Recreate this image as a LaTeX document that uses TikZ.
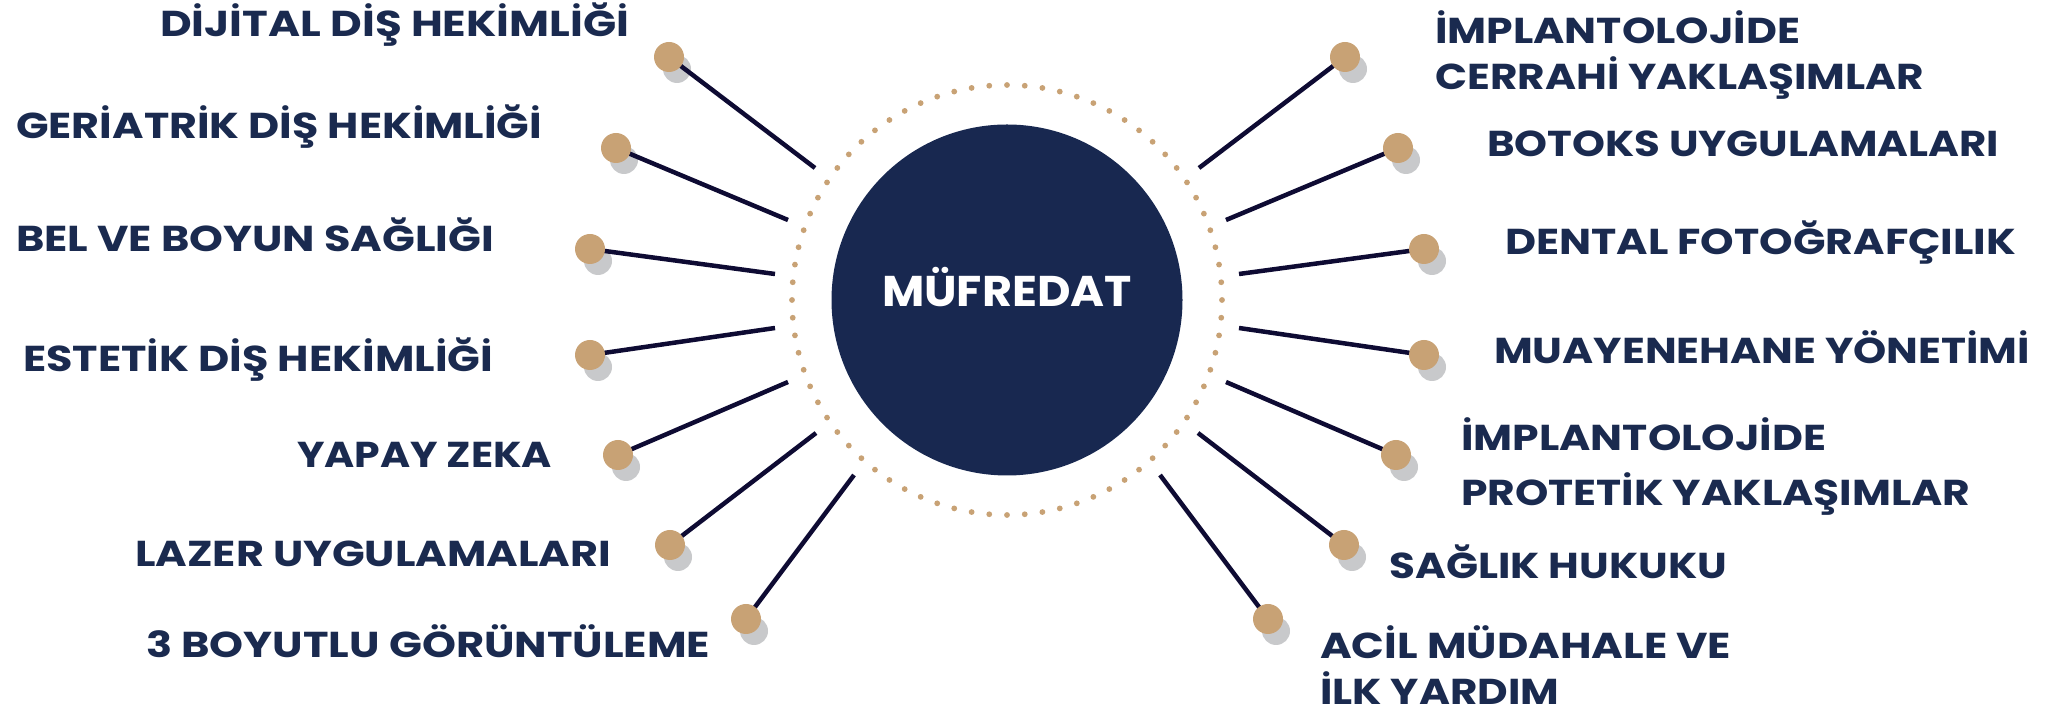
\documentclass[tikz,border=0pt]{standalone}
\usepackage{fontspec}
\setmainfont{Poppins}
\definecolor{navy}{HTML}{182850}
\definecolor{txt}{HTML}{1A2A4F}
\definecolor{spokec}{HTML}{0E0B33}
\definecolor{tan}{HTML}{C8A275}
\definecolor{shadowc}{HTML}{C8C9CB}
\newlength\fitlen
\newcommand\fitw[2]{\settowidth\fitlen{#2}\pgfmathsetmacro\fitsx{#1/\fitlen}\scalebox{\fitsx}[1]{#2}}
\tikzset{
  lbl/.style={inner sep=0pt, text=txt, font=\bfseries\fontsize{36}{42}\selectfont},
  lblL/.style={lbl, anchor=base west},
  bead/.style={circle, fill=tan, minimum size=30pt, inner sep=0pt},
  spoke/.style={draw=spokec, line width=4.5pt},
}
\begin{document}
\begin{tikzpicture}[x=1pt,y=1pt]
\useasboundingbox (0,0) rectangle (2057,711);
% centre
\node[circle, fill=navy, minimum size=351pt, inner sep=0pt] (c) at (1007,411) {};
\node[inner sep=0pt, text=white, font=\bfseries\fontsize{43}{48}\selectfont, anchor=base] (t) at (1007,404) {\fitw{250}{MÜFREDAT}};
\foreach \k in {0,...,75} {
  \fill[tan] (c.center) ++({\k*4.736842}:215) circle (2.9);
}
% inner ends
\coordinate (i1) at (815,543);
\coordinate (i2) at (788,491);
\coordinate (i3) at (775,437);
\coordinate (i4) at (775,383);
\coordinate (i5) at (788,329);
\coordinate (i6) at (816,278);
\coordinate (i7) at (854,236);
\coordinate (j1) at (1199,543);
\coordinate (j2) at (1226,491);
\coordinate (j3) at (1239,437);
\coordinate (j4) at (1239,383);
\coordinate (j5) at (1226,329);
\coordinate (j6) at (1198,278);
\coordinate (j7) at (1160,236);
% shadows
\foreach \p in {(669,654),(616,563),(590,462),(590,356),(618,256),(670,166),(746,92),
                (1345,654),(1398,563),(1424,462),(1424,356),(1396,256),(1344,166),(1268,92)} {
  \fill[shadowc] \p ++(8,-12) circle (14);
}
% spokes
\foreach \n/\ax/\ay/\bx/\by in {1/669/654/1345/654, 2/616/563/1398/563, 3/590/462/1424/462,
   4/590/356/1424/356, 5/618/256/1396/256, 6/670/166/1344/166, 7/746/92/1268/92} {
  \coordinate (pa\n) at (\ax,\ay);
  \coordinate (pb\n) at (\bx,\by);
  \draw[spoke] (i\n) -- (pa\n);
  \draw[spoke] (j\n) -- (pb\n);
}
% beads
\node[bead] (a1) at (pa1) {};
\node[bead] (a2) at (pa2) {};
\node[bead] (a3) at (pa3) {};
\node[bead] (a4) at (pa4) {};
\node[bead] (a5) at (pa5) {};
\node[bead] (a6) at (pa6) {};
\node[bead] (a7) at (pa7) {};
\node[bead] (b1) at (pb1) {};
\node[bead] (b2) at (pb2) {};
\node[bead] (b3) at (pb3) {};
\node[bead] (b4) at (pb4) {};
\node[bead] (b5) at (pb5) {};
\node[bead] (b6) at (pb6) {};
\node[bead] (b7) at (pb7) {};
% labels left
\node[lblL] (l1) at (160,674) {\fitw{469}{DİJİTAL DİŞ HEKİMLİĞİ}};
\node[lblL] (l2) at (16,572) {\fitw{526}{GERİATRİK DİŞ HEKİMLİĞİ}};
\node[lblL] (l3) at (16,459) {\fitw{478}{BEL VE BOYUN SAĞLIĞI}};
\node[lblL] (l4) at (23,339) {\fitw{470}{ESTETİK DİŞ HEKİMLİĞİ}};
\node[lblL] (l5) at (297,243) {\fitw{255}{YAPAY ZEKA}};
\node[lblL] (l6) at (135,144) {\fitw{476}{LAZER UYGULAMALARI}};
\node[lblL] (l7) at (146,53) {\fitw{564}{3 BOYUTLU GÖRÜNTÜLEME}};
% labels right
\node[lblL] (r1a) at (1435,667) {\fitw{365}{İMPLANTOLOJİDE}};
\node[lblL] (r1b) at (1435,621) {\fitw{489}{CERRAHİ YAKLAŞIMLAR}};
\node[lblL] (r2) at (1487,554) {\fitw{512}{BOTOKS UYGULAMALARI}};
\node[lblL] (r3) at (1505,456) {\fitw{511}{DENTAL FOTOĞRAFÇILIK}};
\node[lblL] (r4) at (1494,347) {\fitw{536}{MUAYENEHANE YÖNETİMİ}};
\node[lblL] (r5a) at (1461,260) {\fitw{365}{İMPLANTOLOJİDE}};
\node[lblL] (r5b) at (1461,205) {\fitw{509}{PROTETİK YAKLAŞIMLAR}};
\node[lblL] (r6) at (1389,132) {\fitw{338}{SAĞLIK HUKUKU}};
\node[lblL] (r7a) at (1320,52) {\fitw{411}{ACİL MÜDAHALE VE}};
\node[lblL] (r7b) at (1320,6) {\fitw{239}{İLK YARDIM}};
\end{tikzpicture}
\end{document}
